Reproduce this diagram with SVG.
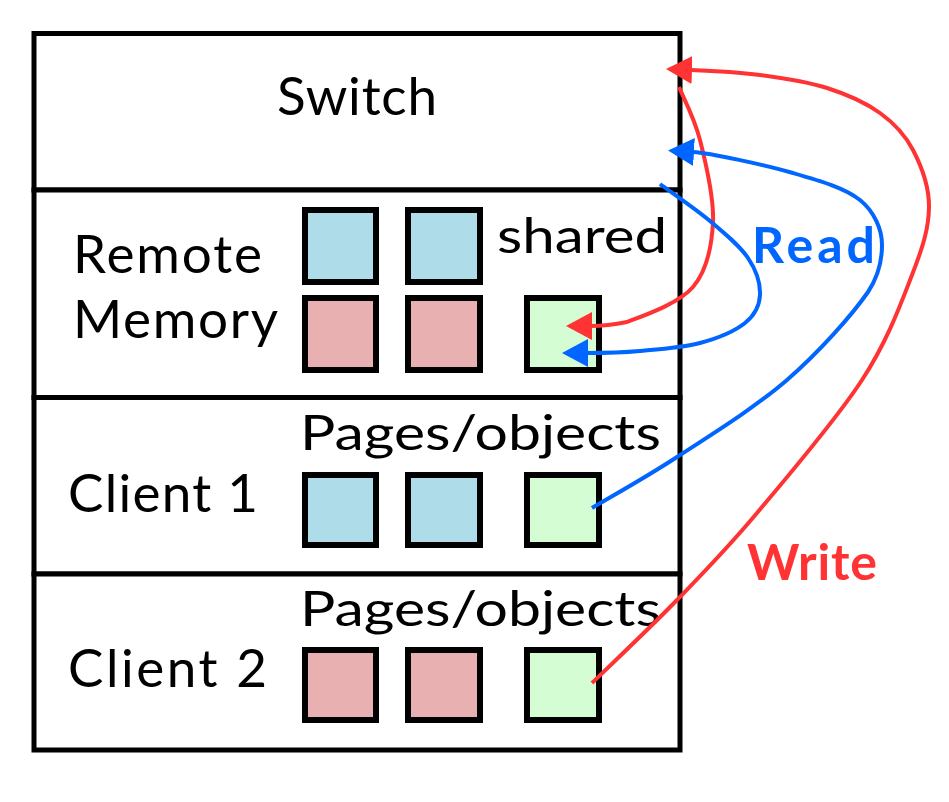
<svg xmlns="http://www.w3.org/2000/svg" width="949" height="802" viewBox="0 0 949 802">
<style>
.box{fill:#ffffff;stroke:#000;stroke-width:5}
.sq{stroke:#000;stroke-width:6}
.b{fill:#AEDCE8}
.p{fill:#E8B0B0}
.g{fill:#D4FDD4}
.t{font-family:Lato,"DejaVu Sans",sans-serif;font-size:53px;fill:#000}
.s{font-size:48px}
.lb{font-family:Lato,"DejaVu Sans",sans-serif;font-weight:bold;font-size:50px}
.cr{fill:none;stroke:#FF3333;stroke-width:4}
.cb{fill:none;stroke:#0066FF;stroke-width:4}
</style>
<defs>
<marker id="ahR" markerUnits="userSpaceOnUse" markerWidth="26" markerHeight="30" viewBox="0 0 26 30" refX="1" refY="15" orient="auto"><path d="M0,1 L26,15 L0,29 z" fill="#FF3333"/></marker>
<marker id="ahB" markerUnits="userSpaceOnUse" markerWidth="26" markerHeight="30" viewBox="0 0 26 30" refX="1" refY="15" orient="auto"><path d="M0,1 L26,15 L0,29 z" fill="#0066FF"/></marker>
</defs>
<rect width="949" height="802" fill="#fff"/>
<g id="switch">
<rect class="box" x="34" y="33.5" width="646" height="156.5"/>
<text class="t" x="277" y="115" textLength="160" lengthAdjust="spacing">Switch</text>
</g>
<g id="remote-memory">
<rect class="box" x="34" y="190" width="646" height="207.5"/>
<text class="t" x="73" y="273" textLength="189" lengthAdjust="spacing">Remote</text>
<text class="t" x="73" y="338" textLength="205" lengthAdjust="spacing">Memory</text>
<text class="t s" x="497" y="253" textLength="170" lengthAdjust="spacingAndGlyphs">shared</text>
<rect class="sq b" x="305" y="210" width="71" height="72"/>
<rect class="sq b" x="408" y="210" width="72" height="72"/>
<rect class="sq p" x="305" y="298" width="71" height="72"/>
<rect class="sq p" x="408" y="298" width="72" height="72"/>
<rect class="sq g" x="527" y="298" width="72" height="72"/>
</g>
<g id="client1">
<rect class="box" x="34" y="397.5" width="646" height="176.5"/>
<text class="t s" x="300" y="450" textLength="361" lengthAdjust="spacingAndGlyphs">Pages/objects</text>
<text class="t" x="68" y="512" textLength="190" lengthAdjust="spacing">Client 1</text>
<rect class="sq b" x="305" y="475" width="71" height="70"/>
<rect class="sq b" x="408" y="475" width="72" height="70"/>
<rect class="sq g" x="527" y="475" width="72" height="70"/>
</g>
<g id="client2">
<rect class="box" x="34" y="574" width="646" height="176"/>
<text class="t s" x="300" y="626" textLength="361" lengthAdjust="spacingAndGlyphs">Pages/objects</text>
<text class="t" x="68" y="687" textLength="199" lengthAdjust="spacing">Client 2</text>
<rect class="sq p" x="305" y="650" width="71" height="70"/>
<rect class="sq p" x="408" y="650" width="72" height="70"/>
<rect class="sq g" x="527" y="650" width="72" height="70"/>
</g>
<g id="connectors">
<path class="cr" marker-end="url(#ahR)" d="M679,87 C682.5,95.8 694.3,117.5 700,140 C705.7,162.5 714.2,197.5 713,222 C711.8,246.5 707.3,270.3 693,287 C678.7,303.7 644,315.5 627,322 C612,325 600,326 591,326"/>
<path class="cr" marker-end="url(#ahR)" d="M592,683 C606.2,669.2 649.5,628.3 677,600 C704.5,571.7 726.2,549.7 757,513 C787.8,476.3 836.2,419.7 862,380 C887.8,340.3 900.8,303.8 912,275 C923.2,246.2 928.8,227.8 929,207 C929.2,186.2 921.2,165.7 913,150 C904.8,134.3 894.3,123.3 880,113 C865.7,102.7 847,94.3 827,88 C807,81.7 782.7,78 760,75 C737.3,72 705,70.5 691,70"/>
<path class="cb" marker-end="url(#ahB)" d="M660,184 C668.3,190.2 695.3,208.7 710,221 C724.7,233.3 739.7,245.7 748,258 C756.3,270.3 760.5,284.2 760,295 C759.5,305.8 755,315 745,323 C735,331 717.5,338.3 700,343 C682.5,347.7 658.8,349.3 640,351 C621.2,352.7 596,353 587,353"/>
<path class="cb" marker-end="url(#ahB)" d="M592,508 C606,499.5 644.5,478.3 677,457 C709.5,435.7 754.8,407.8 787,380 C819.2,352.2 852,315 868,292 C878,277 882,262 882,245 C882,230 874.8,212 860,200 C845.2,188 820.8,181 793,173 C765.2,165 710,153 693,152"/>
<text class="lb" x="752" y="263" fill="#0066FF" textLength="123" lengthAdjust="spacing">Read</text>
<text class="lb" x="747" y="580" fill="#FF3333" textLength="130" lengthAdjust="spacing">Write</text>
</g>
</svg>
